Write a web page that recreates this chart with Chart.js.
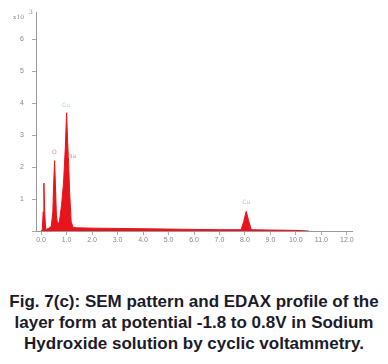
<!DOCTYPE html>
<html>
<head>
<meta charset="utf-8">
<script src="https://cdn.jsdelivr.net/npm/chart.js@4"></script>
<style>
  body { margin: 0; background: #fff; width: 388px; height: 364px; overflow: hidden; }
  #wrap { position: relative; width: 388px; height: 255px; }
  #caption {
    margin-top: 36px;
    text-align: center;
    font: bold 17px "Liberation Sans", Arial, sans-serif;
    line-height: 21px;
    color: #1b1b2a;
    white-space: nowrap;
  }
</style>
</head>
<body>
<div id="wrap"><canvas id="grafico" width="388" height="255"></canvas></div>
<div id="caption">Fig. 7(c): SEM pattern and EDAX profile of the<br>layer form at potential -1.8 to 0.8V in Sodium<br>Hydroxide solution by cyclic voltammetry.</div>
<script>
// energia (keV) e contagens (x10^3)
const energia = [0.00, 0.05, 0.08, 0.11, 0.14, 0.18, 0.30, 0.40, 0.46, 0.50, 0.53, 0.56, 0.60, 0.65,
  0.72, 0.80, 0.88, 0.95, 1.00, 1.04, 1.08, 1.12, 1.18, 1.25, 1.40, 2.0, 3.0, 4.0, 5.0, 6.0, 7.0,
  7.85, 7.95, 8.05, 8.15, 8.25, 9.0, 10.0, 10.5];
const contagens = [0.00, 0.05, 0.60, 1.50, 0.60, 0.05, 0.08, 0.15, 0.60, 1.60, 2.20, 1.50, 0.50, 0.20,
  0.30, 0.80, 1.50, 2.60, 3.70, 2.80, 2.15, 1.20, 0.30, 0.12, 0.10, 0.09, 0.08, 0.07, 0.06, 0.05, 0.04,
  0.04, 0.30, 0.62, 0.30, 0.04, 0.03, 0.02, 0.00];
const xTicks = [0, 1, 2, 3, 4, 5, 6, 7, 8, 9, 10, 11, 12];
const yTicks = [0, 1, 2, 3, 4, 5, 6];
const picos = [
  { nome: "O", e: 0.52, y: 2.35, cor: "#d98fb0" },
  { nome: "Cu", e: 0.98, y: 3.85, cor: "#9fd6e6" },
  { nome: "Na", e: 1.22, y: 2.25, cor: "#d98fb0" },
  { nome: "Cu", e: 8.05, y: 0.8, cor: "#b8c8d0" }
];

const rotulos = {
  id: "rotulos",
  afterDatasetsDraw(chart) {
    const { ctx, scales: { x, y } } = chart;
    ctx.save();
    ctx.font = "6px 'DejaVu Sans'";
    ctx.textAlign = "center";
    ctx.textBaseline = "bottom";
    picos.forEach(p => {
      ctx.fillStyle = p.cor;
      ctx.fillText(p.nome, x.getPixelForValue(p.e), y.getPixelForValue(p.y));
    });
    ctx.fillStyle = "#888";
    ctx.font = "6px 'DejaVu Serif'";
    ctx.textAlign = "left";
    ctx.fillText("x10", 13, 20);
    ctx.fillText("3", 29, 15);
    ctx.restore();
  }
};

const ctx = document.getElementById("grafico").getContext("2d");
new Chart(ctx, {
  type: "line",
  data: {
    datasets: [{
      data: energia.map((e, i) => ({ x: e, y: contagens[i] })),
      borderColor: "#e8141c",
      backgroundColor: "#e8141c",
      borderWidth: 1,
      fill: "origin",
      pointRadius: 0,
      tension: 0
    }]
  },
  options: {
    responsive: false,
    animation: false,
    layout: { padding: { top: 12, right: 36, left: 0, bottom: 0 } },
    plugins: { legend: { display: false }, tooltip: { enabled: false } },
    scales: {
      x: {
        type: "linear",
        min: -0.2,
        max: 12.2,
        afterBuildTicks: s => { s.ticks = xTicks.map(v => ({ value: v })); },
        afterFit: s => { s.height = 24; },
        grid: { drawOnChartArea: false, tickLength: 4, color: "#aaa" },
        border: { color: "#999" },
        ticks: { color: "#888", font: { size: 7 }, padding: 1, callback: v => v.toFixed(1), maxRotation: 0 }
      },
      y: {
        min: 0,
        max: 6.85,
        afterBuildTicks: s => { s.ticks = yTicks.map(v => ({ value: v })); },
        afterFit: s => { s.width = 36; },
        grid: { drawOnChartArea: false, tickLength: 4, color: "#aaa" },
        border: { color: "#999" },
        ticks: { color: "#888", font: { size: 7 }, padding: 8, callback: v => v === 0 ? "" : v }
      }
    }
  },
  plugins: [rotulos]
});
</script>
</body>
</html>
